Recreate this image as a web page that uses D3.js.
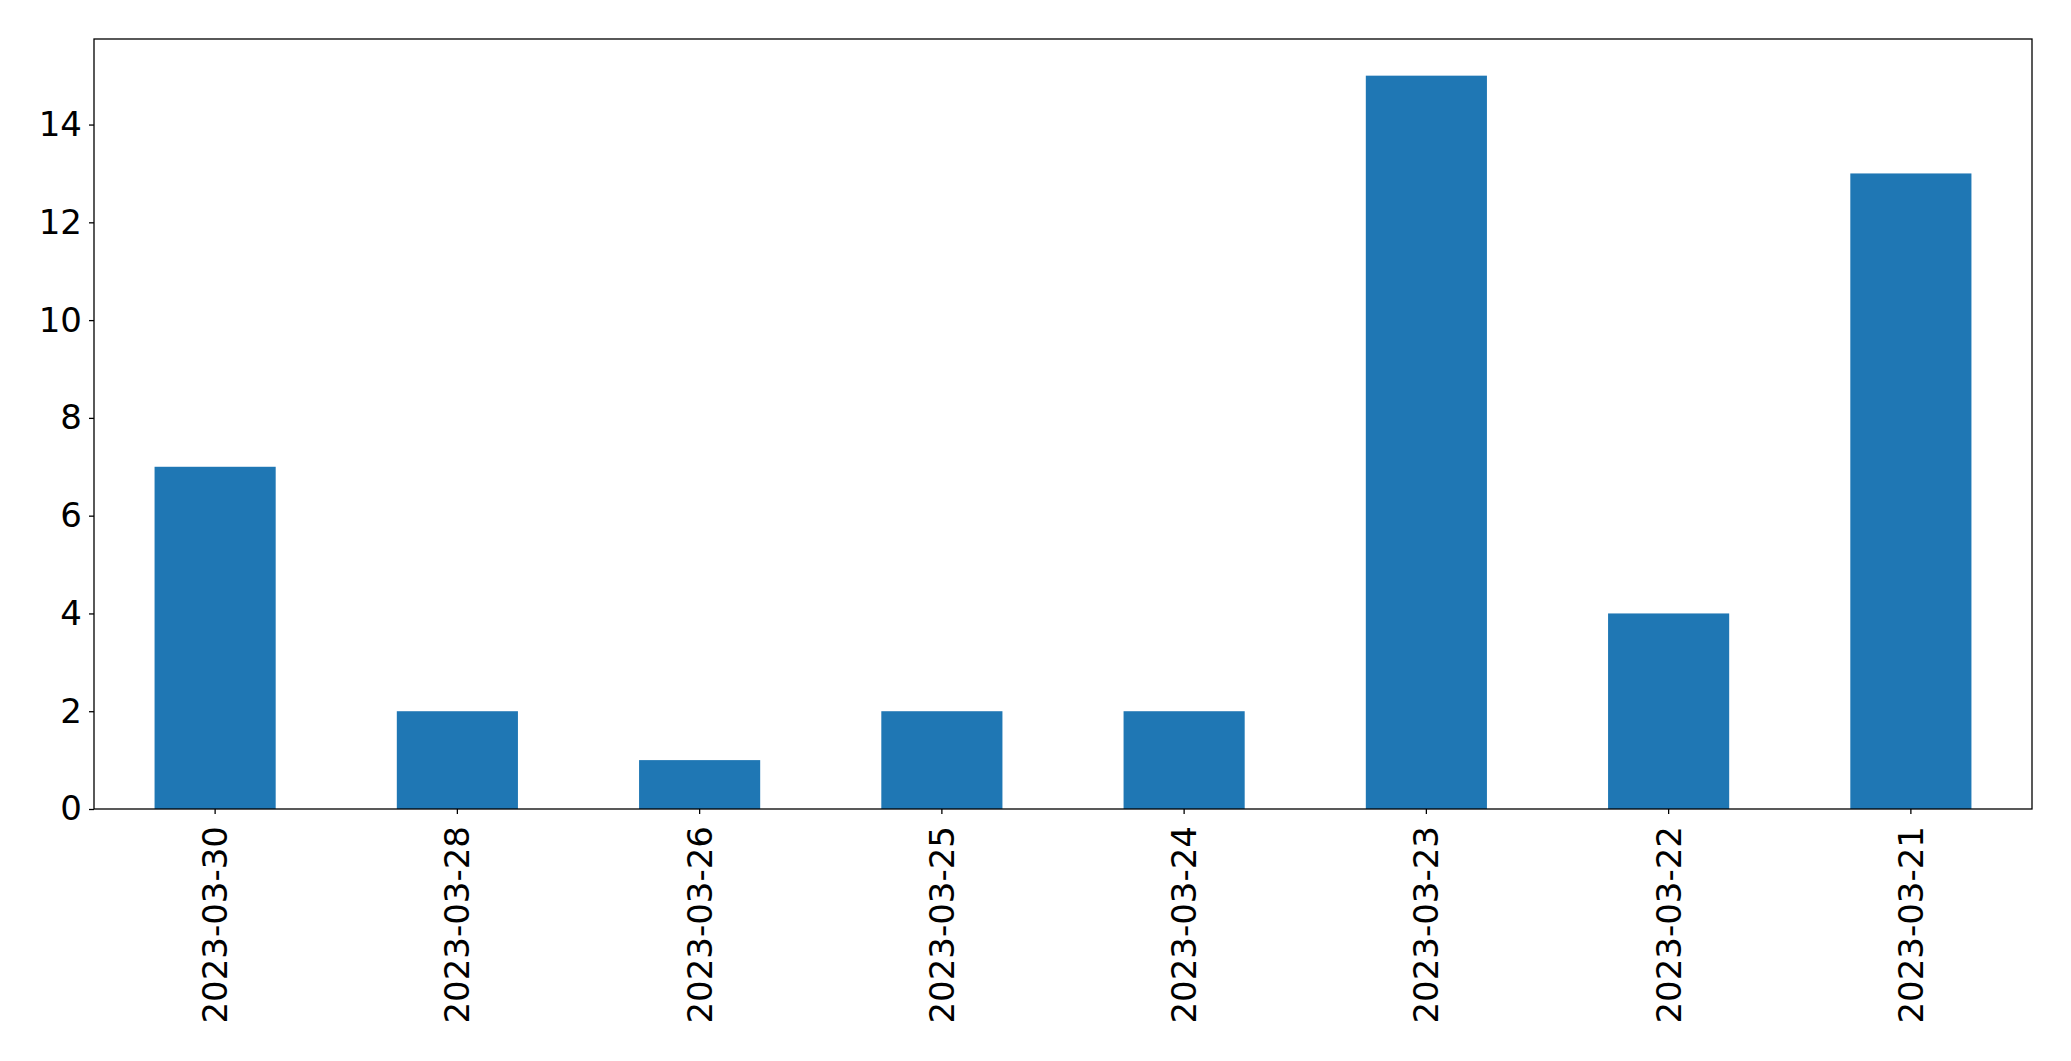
<!DOCTYPE html>
<html>
<head>
<meta charset="utf-8">
<script src="https://cdn.jsdelivr.net/npm/d3@7"></script>
<style>
html,body{margin:0;padding:0;background:#fff;}
svg{display:block;}
text{font-family:"DejaVu Sans",sans-serif;fill:#000;}
</style>
</head>
<body>
<svg id="chart" width="2071" height="1061"></svg>
<script>
const categories = ["2023-03-30","2023-03-28","2023-03-26","2023-03-25","2023-03-24","2023-03-23","2023-03-22","2023-03-21"];
const values = [7, 2, 1, 2, 2, 15, 4, 13];
const yTicks = [0, 2, 4, 6, 8, 10, 12, 14];

const W = 2071, H = 1061;
const m = {left: 94, right: 2032, top: 39, bottom: 809};
const svg = d3.select("#chart");

const x = d3.scaleBand().domain(categories).range([m.left, m.right]).paddingInner(0.5).paddingOuter(0.25);
const y = d3.scaleLinear().domain([0, 15.75]).range([m.bottom, m.top]);

svg.append("g").selectAll("rect").data(categories).join("rect")
  .attr("x", d => x(d))
  .attr("width", x.bandwidth())
  .attr("y", (d, i) => y(values[i]))
  .attr("height", (d, i) => y(0) - y(values[i]))
  .attr("fill", "#1f77b4");

// frame
svg.append("rect").attr("x", m.left).attr("y", m.top)
  .attr("width", m.right - m.left).attr("height", m.bottom - m.top)
  .attr("fill", "none").attr("stroke", "#000").attr("stroke-width", 1.3);

// y axis
const yAxis = svg.append("g").attr("transform", `translate(${m.left},0)`)
  .call(d3.axisLeft(y).tickValues(yTicks).tickSize(5).tickPadding(7).tickFormat(d3.format("d")));
yAxis.select(".domain").remove();
yAxis.selectAll("line").attr("stroke", "#000").attr("stroke-width", 1.3);
yAxis.selectAll("text").attr("font-size", 34).attr("font-family", "DejaVu Sans").attr("fill", "#000");

// x axis
const xAxis = svg.append("g").attr("transform", `translate(0,${m.bottom})`)
  .call(d3.axisBottom(x).tickSize(5).tickPadding(0));
xAxis.select(".domain").remove();
xAxis.selectAll("line").attr("stroke", "#000").attr("stroke-width", 1.3);
xAxis.selectAll("text")
  .attr("font-size", 34).attr("font-family", "DejaVu Sans").attr("fill", "#000")
  .attr("text-anchor", "end")
  .attr("dy", "0.35em")
  .attr("transform", "translate(0,17) rotate(-90)")
  .attr("y", 0).attr("x", 0);
</script>
</body>
</html>
